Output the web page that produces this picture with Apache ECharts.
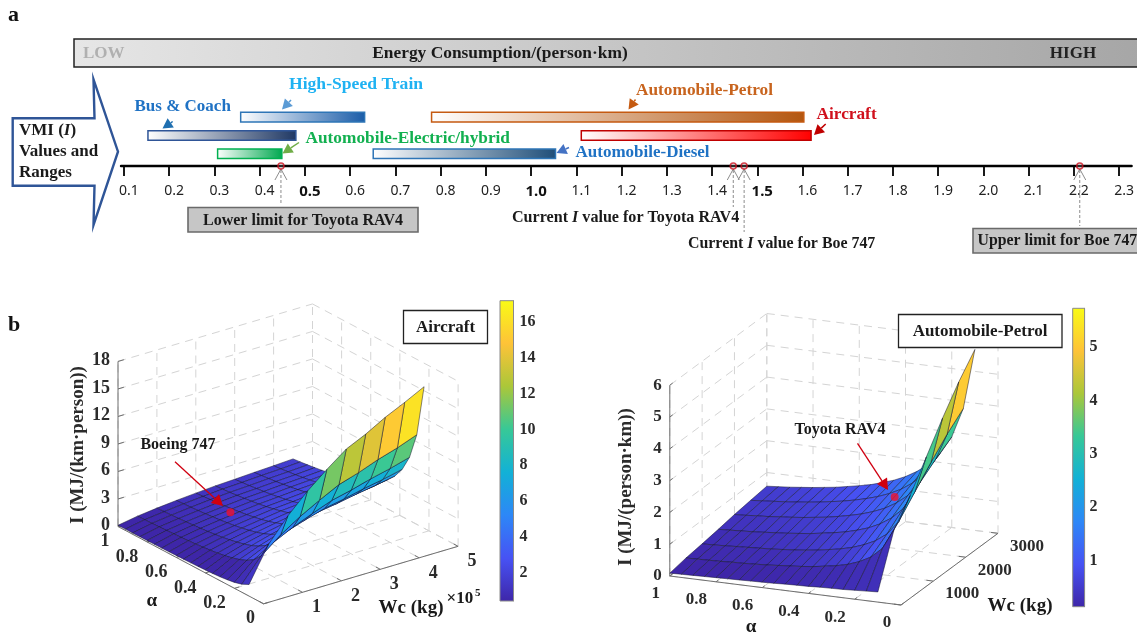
<!DOCTYPE html>
<html><head><meta charset="utf-8">
<style>html,body{margin:0;padding:0;background:#fff}#c{width:1137px;height:634px}</style>
<script src="https://cdn.jsdelivr.net/npm/echarts@6/dist/echarts.min.js"></script>
</head><body><div id="c"></div>
<script>
// ---------- panel a data ----------
const rangeNames  = ['Bus & Coach','High-Speed Train','Automobile-Electric/hybrid','Automobile-Diesel','Automobile-Petrol','Aircraft'];
const rangeStart  = [0.153,0.358,0.307,0.651,0.780,1.111];
const rangeEnd    = [0.480,0.632,0.449,1.054,1.603,1.619];
const rangeLane   = [2,1,3,3,1,2];
const scaleTicks  = [0.1,0.2,0.3,0.4,0.5,0.6,0.7,0.8,0.9,1.0,1.1,1.2,1.3,1.4,1.5,1.6,1.7,1.8,1.9,2.0,2.1,2.2,2.3];
const boldTicks   = [0.5,1.0,1.5];
const markerValues= [0.447,1.447,1.471,2.213];
// ---------- panel b data: I(alpha, Wc) ----------
const alphaLevels = [1,0.95,0.9,0.85,0.8,0.75,0.7,0.65,0.6,0.55,0.5,0.45,0.4,0.35,0.3,0.25,0.2,0.15,0.1];
const wcAircraft  = [0,0.5,1,1.5,2,2.5,3,3.5,4,4.5];
const iAircraft = [
[.13,.50,.75,.96,1.13,1.29,1.39,1.51,1.61,1.73],
[.14,.53,.79,1.01,1.19,1.36,1.46,1.59,1.69,1.82],
[.14,.56,.83,1.06,1.26,1.43,1.54,1.68,1.79,1.92],
[.15,.59,.88,1.12,1.33,1.52,1.64,1.78,1.89,2.04],
[.16,.63,.94,1.19,1.41,1.61,1.74,1.89,2.01,2.16],
[.17,.67,1.00,1.27,1.51,1.72,1.85,2.01,2.15,2.31],
[.18,.71,1.07,1.36,1.61,1.84,1.99,2.16,2.30,2.47],
[.19,.77,1.15,1.47,1.74,1.98,2.14,2.32,2.48,2.66],
[.21,.83,1.25,1.59,1.88,2.15,2.32,2.52,2.68,2.88],
[.23,.91,1.36,1.74,2.05,2.35,2.53,2.75,2.93,3.15],
[.25,1.00,1.50,1.91,2.26,2.58,2.78,3.02,3.22,3.46],
[.28,1.11,1.67,2.12,2.51,2.87,3.09,3.36,3.58,3.84],
[.32,1.25,1.88,2.39,2.83,3.23,3.48,3.78,4.03,4.33],
[.36,1.43,2.14,2.73,3.23,3.69,3.97,4.31,4.60,4.94],
[.42,1.67,2.50,3.18,3.77,4.30,4.63,5.03,5.37,5.77],
[.52,2.00,3.00,3.82,4.52,5.16,5.56,6.04,6.44,6.92],
[.65,2.50,3.75,4.78,5.65,6.45,6.95,7.55,8.05,8.65],
[.87,3.33,5.00,6.37,7.53,8.60,9.27,10.07,10.73,11.53],
[1.26,5.00,7.50,9.55,11.30,12.90,13.90,15.10,16.10,17.19]];
const wcPetrol = [0,500,1000,1500,2000,2500,3000];
const iPetrol = [
[.09,.19,.26,.34,.43,.50,.57],
[.10,.20,.27,.36,.45,.53,.60],
[.11,.21,.29,.38,.48,.56,.63],
[.12,.22,.31,.40,.50,.59,.67],
[.13,.24,.33,.43,.54,.63,.71],
[.14,.25,.35,.46,.57,.67,.76],
[.15,.27,.37,.49,.61,.72,.81],
[.16,.29,.40,.53,.66,.78,.88],
[.17,.32,.43,.57,.71,.84,.95],
[.18,.35,.47,.63,.78,.92,1.03],
[.20,.38,.52,.69,.86,1.01,1.14],
[.21,.42,.58,.76,.95,1.12,1.26],
[.22,.48,.65,.86,1.07,1.26,1.42],
[.24,.54,.74,.98,1.22,1.44,1.63],
[.25,.63,.87,1.15,1.43,1.68,1.90],
[.26,.76,1.04,1.38,1.71,2.02,2.28],
[.28,.95,1.30,1.72,2.14,2.52,2.85],
[.30,1.27,1.73,2.29,2.85,3.36,3.79],
[.32,1.90,2.60,3.44,4.28,5.04,5.69]];
const alphaTicks   = [1,0.8,0.6,0.4,0.2,0];
const iTicksA      = [0,3,6,9,12,15,18];
const wcTicksA     = [1,2,3,4,5];
const cbarTicksA   = [2,4,6,8,10,12,14,16];
const iTicksP      = [0,1,2,3,4,5,6];
const wcTicksP     = [1000,2000,3000];
const cbarTicksP   = [1,2,3,4,5];
const boeingPoint  = [1.88,0.73,1.47];   // Wc, alpha, I
const toyotaPoint  = [2185,0.333,1.45];

// ---------- styling / view config ----------
const SERIF='"Liberation Serif"';
const parula=['#3E26A8','#4752F4','#2D87F7','#12B1D6','#37C897','#ABC739','#FEC338','#F9FB15'];
const barStyles=[
 {c:'#1f3864',b:'#2f5597'},{c:'#1a5ca8',b:'#2e75b6'},{c:'#00a84f',b:'#00b050'},
 {c:'#1f4e79',b:'#2e75b6'},{c:'#b3560f',b:'#c55a11'},{c:'#ff0000',b:'#c00000'}];
const markerDrops=[37,41,66,60];
const viewA={ax:145.6,ay:-77.3,wx:38.9,wy:11.5,iy:9.17,wMax:5,iMax:18,cmin:0.42,cmax:17.19};
const viewP={ax:231.2,ay:-29,wx:97/3000,wy:71.7/3000,iy:31.8,wMax:3000,iMax:6,cmin:0.138,cmax:5.73};
const project=(v,w,a,i)=>[v.ax*(1-a)+v.wx*w, v.ay*(1-a)+v.wy*w+v.iy*i];
const colorOf=(v,val)=>echarts.color.lerp(Math.min(1,Math.max(0,(val-v.cmin)/(v.cmax-v.cmin))),parula);

function boxSegments(v,wT,iT){
  const grid=[],axis=[],W=v.wMax,Z=v.iMax;
  iT.forEach(i=>{grid.push([0,1,i,W,1,i]);grid.push([W,1,i,W,0,i]);});
  wT.forEach(w=>{grid.push([w,1,0,w,1,Z]);grid.push([w,1,0,w,0,0]);});
  alphaTicks.forEach(a=>{grid.push([W,a,0,W,a,Z]);grid.push([0,a,0,W,a,0]);});
  axis.push([0,1,0,0,1,Z],[0,1,0,0,0,0],[0,0,0,W,0,0]);
  iT.forEach(i=>axis.push([0,1,i,W*.03,1,i]));
  alphaTicks.forEach(a=>axis.push([0,a,0,W*.025,a,0]));
  wT.forEach(w=>axis.push([w,0,0,w,.03,0]));
  return {grid,axis};
}
function boxSeries(v,wT,iT,g){
  const s=boxSegments(v,wT,iT),all=s.grid.map(x=>[...x,0]).concat(s.axis.map(x=>[...x,1]));
  return {type:'custom',xAxisIndex:g,yAxisIndex:g,silent:true,animation:false,clip:false,z:2,
    data:all.map((_,k)=>[k]),
    renderItem(p,api){
      const d=all[p.dataIndex],A=api.coord(project(v,d[0],d[1],d[2])),B=api.coord(project(v,d[3],d[4],d[5]));
      return {type:'line',shape:{x1:A[0],y1:A[1],x2:B[0],y2:B[1]},
        style:d[6]?{stroke:'#6f6f6f',lineWidth:1}:{stroke:'#d4d4d4',lineWidth:1,lineDash:[8,6]}};
    }};
}
function surfaceSeries(v,wc,mat,g){
  const cells=[];
  for(let r=0;r<alphaLevels.length-1;r++) for(let c=wc.length-2;c>=0;c--) cells.push([r,c]);
  return {type:'custom',xAxisIndex:g,yAxisIndex:g,silent:true,animation:false,clip:false,z:3,
    data:cells,
    renderItem(p,api){
      const [r,c]=cells[p.dataIndex];
      const pts=[[r,c],[r,c+1],[r+1,c+1],[r+1,c]].map(([a,b])=>api.coord(project(v,wc[b],alphaLevels[a],mat[a][b])));
      return {type:'polygon',shape:{points:pts},
        style:{fill:colorOf(v,mat[r+1][c]),stroke:'rgba(20,20,45,.72)',lineWidth:.7,lineJoin:'round'}};
    }};
}
function labelSeries(v,g,items){
  return {type:'custom',xAxisIndex:g,yAxisIndex:g,silent:true,animation:false,clip:false,z:4,
    data:items.map((_,k)=>[k]),
    renderItem(p,api){
      const t=items[p.dataIndex],P=api.coord(project(v,t.w,t.a,t.i));
      return {type:'text',style:{text:t.text,x:P[0]+t.dx,y:P[1]+t.dy,fill:'#2b2b2b',
        font:'bold '+t.fs+'px '+SERIF,align:t.al||'center',verticalAlign:'middle',
        textAlign:t.al||'center',textVerticalAlign:'middle'}};
    }};
}
function pointSeries(v,pt,g){
  return {type:'scatter',xAxisIndex:g,yAxisIndex:g,silent:true,animation:false,clip:false,z:6,
    symbolSize:8,itemStyle:{color:'#f0102a'},data:[project(v,pt[0],pt[1],pt[2])]};
}
function cbarSeries(g,lo,hi){
  return {type:'custom',xAxisIndex:g,yAxisIndex:g,silent:true,animation:false,z:3,data:[[0]],
    renderItem(p,api){
      const A=api.coord([0,hi]),B=api.coord([1,lo]);
      return {type:'rect',shape:{x:A[0],y:A[1],width:B[0]-A[0],height:B[1]-A[1]},
        style:{fill:new echarts.graphic.LinearGradient(0,1,0,0,parula.map((c,i)=>({offset:i/(parula.length-1),color:c}))),
          stroke:'#8a8a8a',lineWidth:1}};
    }};
}
function cbarAxes(g,lo,hi,ticks,fs,margin){
  return {y:{gridIndex:g,type:'value',position:'right',min:lo,max:hi,
      axisLine:{show:true,onZero:false,lineStyle:{color:'#8a8a8a'}},
      axisTick:{show:true,inside:true,length:3,customValues:ticks,lineStyle:{color:'#555'}},
      axisLabel:{customValues:ticks,margin:margin,fontFamily:SERIF,fontWeight:'bold',fontSize:fs,color:'#2b2b2b',
        formatter:x=>String(Math.round(x))},
      splitLine:{show:false}},
    x:{gridIndex:g,type:'value',min:0,max:1,show:false}};
}
const hiddenX=(g,a,b)=>({gridIndex:g,type:'value',min:a,max:b,show:false});
const hiddenY=(g,a,b)=>({gridIndex:g,type:'value',min:a,max:b,show:false});

// ---------- annotations ----------
const T=(x,y,text,o={})=>({type:'text',x,y,z:100,silent:true,style:Object.assign({text,
  font:'bold '+(o.fs||16)+'px '+SERIF,fill:o.c||'#1a1a1a',align:o.al||'left',verticalAlign:'middle',
  textAlign:o.al||'left',textVerticalAlign:'middle'},o.rich?{rich:o.rich}:{})});
const italicRich=fs=>({a:{fontFamily:SERIF,fontWeight:'bold',fontSize:fs,fill:'#1a1a1a',color:'#1a1a1a'},
                       i:{fontFamily:SERIF,fontWeight:'bold',fontStyle:'italic',fontSize:fs,fill:'#1a1a1a',color:'#1a1a1a'}});
function arrow(x1,y1,x2,y2,c,head=8,w=1.5){
  const L=Math.hypot(x2-x1,y2-y1),ux=(x2-x1)/L,uy=(y2-y1)/L,bx=x2-ux*head,by=y2-uy*head,hw=head*.55;
  return [{type:'line',z:100,silent:true,shape:{x1,y1,x2:bx,y2:by},style:{stroke:c,lineWidth:w}},
          {type:'polygon',z:100,silent:true,shape:{points:[[x2,y2],[bx-uy*hw,by+ux*hw],[bx+uy*hw,by-ux*hw]]},style:{fill:c}}];
}
const Box=(x,y,w,h,fill,stroke,lw)=>({type:'rect',z:99,silent:true,shape:{x,y,width:w,height:h},style:{fill,stroke,lineWidth:lw}});
const graphics=[
  T(8,15,'a',{fs:22,c:'#111'}),T(8,325,'b',{fs:22,c:'#111'}),
  {type:'rect',z:98,silent:true,shape:{x:74,y:39,width:1070,height:28},
    style:{fill:new echarts.graphic.LinearGradient(0,0,1,0,[{offset:0,color:'#e6e6e6'},{offset:1,color:'#a6a6a6'}]),stroke:'#222',lineWidth:1.5}},
  T(83,54,'LOW',{fs:17,c:'#b0b0b0'}),
  T(500,54,'Energy Consumption/(person·km)',{fs:17.4,al:'center'}),
  T(1073,54,'HIGH',{fs:17,al:'center',c:'#222'}),
  {type:'polygon',z:98,silent:true,shape:{points:[[12.7,118.3],[94.5,118.3],[93.5,79.3],[118,151.7],[93.5,225],[94.5,185.7],[12.7,185.7]]},
    style:{fill:'#fff',stroke:'#2f5597',lineWidth:2.4}},
  T(19,131,'{a|VMI (}{i|I}{a|)}',{rich:italicRich(17)}),
  T(19,152,'Values and',{fs:17}),T(19,172.5,'Ranges',{fs:17}),
  T(289,84.5,'High-Speed Train',{fs:17.6,c:'#1fb2f2'}),
  T(134.5,107,'Bus & Coach',{fs:17,c:'#1f72c4'}),
  T(305.5,138.5,'Automobile-Electric/hybrid',{fs:17.3,c:'#12b050'}),
  T(575.5,153,'Automobile-Diesel',{fs:17,c:'#1f72c4'}),
  T(636,91,'Automobile-Petrol',{fs:17.3,c:'#c8641e'}),
  T(816.5,115,'Aircraft',{fs:17.3,c:'#d0101c'}),
  ...arrow(291,100,282,109.5,'#5b9bd5',10,1.5),
  ...arrow(172.7,121.5,162.5,128.5,'#1f6fb0',10,1.5),
  ...arrow(299,142.5,282.5,153.5,'#70ad47',10,1.5),
  ...arrow(569,147.5,556.5,153,'#4472c4',10,1.5),
  ...arrow(635.5,99.5,628.5,109.5,'#c55a11',10,1.5),
  ...arrow(825.7,124,814,135,'#c00000',10,1.5),
  Box(188,207.5,230,24.5,'#c6c6c6','#6a6a6a',1.6),
  T(303,220.5,'Lower limit for Toyota RAV4',{fs:16,al:'center'}),
  Box(973,228.5,175,24.5,'#c6c6c6','#6a6a6a',1.6),
  T(977.5,241,'Upper limit for Boe 747',{fs:15.8}),
  T(512,218,'{a|Current }{i|I}{a| value for Toyota RAV4}',{rich:italicRich(16.1)}),
  T(688,244,'{a|Current }{i|I}{a| value for Boe 747}',{rich:italicRich(15.9)}),
  Box(403.5,310.5,84,33,'#fff','#222',1.3),
  T(445.5,327.5,'Aircraft',{fs:17,al:'center'}),
  Box(898.5,314.5,163.5,33,'#fff','#222',1.3),
  T(980,331.5,'Automobile-Petrol',{fs:17,al:'center'}),
  T(178,445,'Boeing 747',{fs:16,al:'center'}),
  ...arrow(175,461.7,223,506,'#d00010',11,1.3),
  T(840,430,'Toyota RAV4',{fs:16,al:'center'}),
  ...arrow(857.5,443.3,888,490,'#d00010',11,1.3),
  T(151.8,601.5,'α',{fs:19,al:'center'}),
  T(411,608,'Wc (kg)',{fs:19,al:'center'}),
  T(446.5,599,'×10',{fs:17}),T(475,593,'5',{fs:11}),
  T(751,627,'α',{fs:19,al:'center'}),
  T(1020,606,'Wc (kg)',{fs:19,al:'center'}),
  {type:'text',x:78.5,y:445,rotation:Math.PI/2,z:100,silent:true,style:{text:'I (MJ/(km·person))',font:'bold 19px '+SERIF,fill:'#2b2b2b',align:'center',verticalAlign:'middle',textAlign:'center',textVerticalAlign:'middle'}},
  {type:'text',x:626,y:487,rotation:Math.PI/2,z:100,silent:true,style:{text:'I (MJ/(person·km))',font:'bold 19px '+SERIF,fill:'#2b2b2b',align:'center',verticalAlign:'middle',textAlign:'center',textVerticalAlign:'middle'}}
];

// ---------- tick labels in the 3-D view ----------
const labelsA=[
  ...iTicksA.map(i=>({w:0,a:1,i,text:String(i),dx:-8,dy:-1,fs:18,al:'right'})),
  ...alphaTicks.map(a=>({w:0,a,i:0,text:String(a),dx:(a===1||a===0)?-13:-20,dy:15,fs:18})),
  ...wcTicksA.map(w=>({w,a:0,i:0,text:String(w),dx:14,dy:15.5,fs:18}))];
const labelsP=[
  ...iTicksP.map(i=>({w:0,a:1,i,text:String(i),dx:-8,dy:0,fs:17,al:'right'})),
  ...alphaTicks.map(a=>({w:0,a,i:0,text:String(a),dx:(a===1||a===0)?-14:-19.6,dy:18,fs:17})),
  ...wcTicksP.map(w=>({w,a:0,i:0,text:String(w),dx:29,dy:13,fs:17}))];

// ---------- panel a custom series ----------
const laneMin=.5,laneMax=3.669;
const rangeSeries={type:'custom',xAxisIndex:0,yAxisIndex:0,silent:true,animation:false,z:3,
  data:rangeNames.map((n,k)=>({name:n,value:[rangeStart[k],rangeEnd[k],rangeLane[k]]})),
  renderItem(p,api){
    const A=api.coord([api.value(0),api.value(2)]),B=api.coord([api.value(1),api.value(2)]),s=barStyles[p.dataIndex];
    return {type:'rect',shape:{x:A[0],y:A[1]-4.8,width:B[0]-A[0],height:9.6},
      style:{fill:new echarts.graphic.LinearGradient(0,0,1,0,[{offset:0,color:'#ffffff'},{offset:1,color:s.c}]),stroke:s.b,lineWidth:1.5}};
  }};
const calloutSeries={type:'custom',xAxisIndex:0,yAxisIndex:0,silent:true,animation:false,clip:false,z:2,
  data:markerValues.map(v=>[v,laneMax]),
  renderItem(p,api){
    const P=api.coord([api.value(0),api.value(1)]),L=markerDrops[p.dataIndex];
    return {type:'group',children:[
      {type:'line',shape:{x1:P[0],y1:P[1]+4,x2:P[0],y2:P[1]+L},style:{stroke:'#8c8c8c',lineWidth:1,lineDash:[3,2]}},
      {type:'polyline',shape:{points:[[P[0]-6,P[1]+14],[P[0],P[1]+3],[P[0]+6,P[1]+14]]},style:{stroke:'#8c8c8c',lineWidth:1,fill:null}}]};
  }};

const cA=cbarAxes(2,viewA.cmin,viewA.cmax,cbarTicksA,16,6);
const cP=cbarAxes(4,viewP.cmin,viewP.cmax,cbarTicksP,16,5);
const option={
  backgroundColor:'#fff',animation:false,
  graphic:{elements:graphics},
  grid:[
    {left:121,right:4,top:108,height:58},
    {left:100,top:295,width:370,height:325},
    {left:500,top:300.7,width:13.5,height:300.3},
    {left:640,top:295,width:370,height:325},
    {left:1072.7,top:308.3,width:11.9,height:298.4}],
  xAxis:[
    {gridIndex:0,type:'value',min:0.0934,max:2.3276,
      axisLine:{show:true,onZero:false,lineStyle:{color:'#000',width:2.4}},
      axisTick:{show:true,length:10,customValues:scaleTicks,lineStyle:{color:'#000',width:1.8}},
      axisLabel:{customValues:scaleTicks,margin:18,padding:[0,0,0,10],hideOverlap:false,
        formatter:x=>boldTicks.some(b=>Math.abs(b-x)<1e-6)?'{b|'+x.toFixed(1)+'}':'{n|'+x.toFixed(1)+'}',
        rich:{n:{fontFamily:'"Noto Sans"',fontSize:14,color:'#222'},b:{fontFamily:'"Noto Sans"',fontSize:15,fontWeight:'bold',color:'#111'}}},
      splitLine:{show:false}},
    hiddenX(1,-18,352),cA.x,hiddenX(3,-29.8,340.2),cP.x],
  yAxis:[
    {gridIndex:0,type:'value',inverse:true,min:laneMin,max:laneMax,show:false},
    hiddenY(1,-93.5,231.5),cA.y,hiddenY(3,-44,281),cP.y],
  series:[
    calloutSeries,rangeSeries,
    {type:'scatter',xAxisIndex:0,yAxisIndex:0,silent:true,animation:false,clip:false,z:5,symbolSize:6,
      itemStyle:{color:'rgba(255,255,255,.2)',borderColor:'#c8101e',borderWidth:1.6},data:markerValues.map(v=>[v,laneMax])},
    boxSeries(viewA,wcTicksA.concat([0]),iTicksA,1),surfaceSeries(viewA,wcAircraft,iAircraft,1),labelSeries(viewA,1,labelsA),pointSeries(viewA,boeingPoint,1),
    cbarSeries(2,viewA.cmin,viewA.cmax),
    boxSeries(viewP,wcTicksP.concat([0]),iTicksP,3),surfaceSeries(viewP,wcPetrol,iPetrol,3),labelSeries(viewP,3,labelsP),pointSeries(viewP,toyotaPoint,3),
    cbarSeries(4,viewP.cmin,viewP.cmax)
  ]
};
const chart=echarts.init(document.getElementById('c'),null,{renderer:'canvas'});
chart.setOption(option);
</script></body></html>
